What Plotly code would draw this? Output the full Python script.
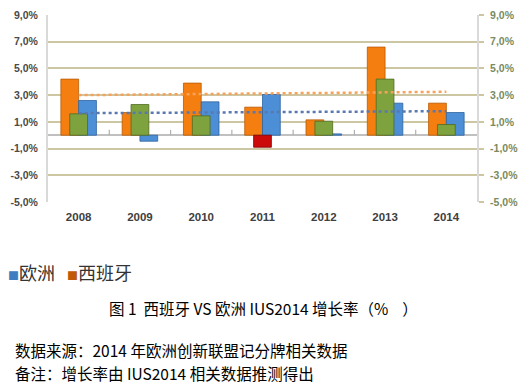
import plotly.graph_objects as go

years = ["2008", "2009", "2010", "2011", "2012", "2013", "2014"]
spain = [4.2, 1.7, 3.9, 2.1, 1.15, 6.6, 2.4]
europe = [2.6, -0.45, 2.5, 3.05, 0.1, 2.4, 1.7]
diff = [1.6, 2.3, 1.45, -0.9, 1.05, 4.2, 0.8]
spain_trend = [3.0, 3.25]
europe_trend = [1.65, 1.8]
y_ticks = [-5, -3, -1, 1, 3, 5, 7, 9]
y_ticktext = ["-5,0%", "-3,0%", "-1,0%", "1,0%", "3,0%", "5,0%", "7,0%", "9,0%"]

xs = list(range(len(years)))
trend_x = [xs[0], xs[-1]]
boundaries = [i + 0.5 for i in xs[:-1]]

fig = go.Figure()
fig.add_trace(go.Bar(x=xs, y=spain, width=0.29, offset=-0.29,
                     marker=dict(color="#f47f10", line=dict(color="#b85a05", width=0.8)),
                     name="西班牙", showlegend=False))
fig.add_trace(go.Bar(x=xs, y=europe, width=0.29, offset=0.0,
                     marker=dict(color="#4d8fd6", line=dict(color="#2f63a0", width=0.8)),
                     name="欧洲", showlegend=False))
fig.add_trace(go.Bar(x=xs, y=diff, width=0.29, offset=-0.145,
                     marker=dict(color=["#7ea33e" if v >= 0 else "#cc0a0a" for v in diff],
                                 line=dict(color=["#4f6b22" if v >= 0 else "#800000" for v in diff], width=0.8)),
                     showlegend=False))
fig.add_trace(go.Scatter(x=trend_x, y=spain_trend, mode="lines",
                         line=dict(color="#f7a25a", width=2.5, dash="dot"), showlegend=False))
fig.add_trace(go.Scatter(x=trend_x, y=europe_trend, mode="lines",
                         line=dict(color="#5a78b0", width=2.5, dash="dot"), showlegend=False))
# small category-boundary ticks on the zero line
fig.add_trace(go.Scatter(x=boundaries, y=[0] * len(boundaries), mode="markers",
                         marker=dict(size=1, color="rgba(0,0,0,0)"),
                         error_y=dict(type="data", symmetric=False, array=[0.4] * len(boundaries),
                                      arrayminus=[0] * len(boundaries), width=0, color="#b0b0b0", thickness=1.2),
                         showlegend=False, hoverinfo="skip"))
# invisible trace for right axis
fig.add_trace(go.Scatter(x=[xs[0]], y=[0], yaxis="y2", mode="markers",
                         marker=dict(size=1, color="rgba(0,0,0,0)"), showlegend=False, hoverinfo="skip"))

fig.update_layout(
    width=523, height=386,
    margin=dict(l=48, r=46, t=15, b=184, autoexpand=False),
    paper_bgcolor="white", plot_bgcolor="white",
    barmode="overlay",
    xaxis=dict(range=[-0.5, 6.5], tickvals=xs, ticktext=years, showgrid=False, zeroline=False,
               showline=False, ticks="", ticklabelstandoff=6, automargin=False,
               tickfont=dict(family="Liberation Sans", size=11.5, color="#404040", weight="bold")),
    yaxis=dict(range=[-5, 9], tickvals=y_ticks, ticktext=y_ticktext, showgrid=True,
               gridcolor="#cdc6a2", gridwidth=2, zeroline=True, zerolinecolor="#c0c0c0", zerolinewidth=1.5,
               showline=True, linecolor="#d9d9d9", linewidth=2, ticks="", ticklabelstandoff=6,
               automargin=False,
               tickfont=dict(family="Liberation Sans", size=10.5, color="#4a4a4a", weight="bold")),
    yaxis2=dict(range=[-5, 9], tickvals=y_ticks, ticktext=y_ticktext, overlaying="y", side="right",
                showgrid=False, zeroline=False, showline=True, linecolor="#d9d9d9", linewidth=2,
                ticks="outside", ticklen=5, tickcolor="#cdc6a2", tickwidth=2, automargin=False,
                ticklabelstandoff=4,
                tickfont=dict(family="Liberation Sans", size=10.5, color="#7a8a62", weight="bold")),
)

cjk = "Noto Sans CJK SC"
fig.add_annotation(xref="paper", yref="paper", x=-0.097, y=-0.377, xanchor="left", yanchor="middle",
                   showarrow=False,
                   text="<span style='color:#3f7cc0;font-size:11px'>■</span>欧洲"
                        "   <span style='color:#c0580a;font-size:11px'>■</span>西班牙",
                   font=dict(family=cjk, size=18, color="#333333"))
fig.add_annotation(xref="paper", yref="paper", x=0.1375, y=-0.569, xanchor="left", yanchor="middle",
                   showarrow=False, text="图 1  西班牙 VS 欧洲 IUS2014 增长率（%    ）",
                   font=dict(family=cjk, size=15.5, color="#000000"))
fig.add_annotation(xref="paper", yref="paper", x=-0.0816, y=-0.794, xanchor="left", yanchor="middle",
                   showarrow=False, text="数据来源：2014 年欧洲创新联盟记分牌相关数据",
                   font=dict(family=cjk, size=15.5, color="#000000"))
fig.add_annotation(xref="paper", yref="paper", x=-0.0816, y=-0.912, xanchor="left", yanchor="middle",
                   showarrow=False, text="备注：增长率由 IUS2014 相关数据推测得出",
                   font=dict(family=cjk, size=15.5, color="#000000"))

fig.write_html("out.html", config={"displayModeBar": False},
               post_script="document.body.style.margin='0';document.body.style.overflow='hidden';")
